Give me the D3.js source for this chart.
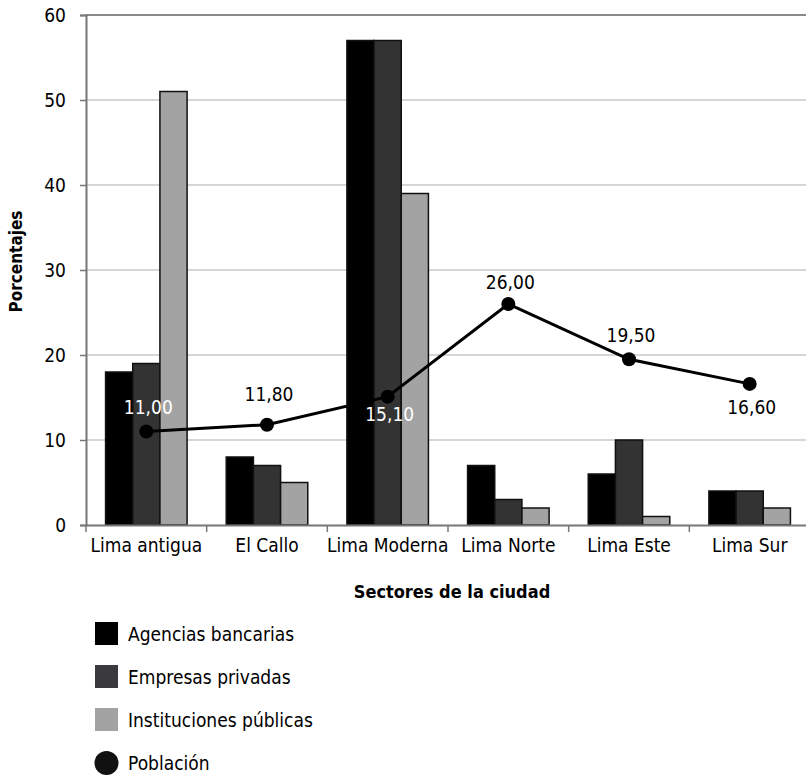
<!DOCTYPE html>
<html>
<head>
<meta charset="utf-8">
<script src="https://cdn.jsdelivr.net/npm/d3@7"></script>
<style>
  body { margin: 0; background: #fff; }
  svg { display: block; }
  text { font-family: "Liberation Sans Narrow", "DejaVu Sans Condensed", "Roboto", sans-serif; }
</style>
</head>
<body>
<div id="chart"></div>
<script>
const categories = ['Lima antigua', 'El Callo', 'Lima Moderna', 'Lima Norte', 'Lima Este', 'Lima Sur'];
const agencias = [18, 8, 57, 7, 6, 4];
const empresas = [19, 7, 57, 3, 10, 4];
const instituciones = [51, 5, 39, 2, 1, 2];
const poblacion = [11.0, 11.8, 15.1, 26.0, 19.5, 16.6];
const poblacionLabels = ['11,00', '11,80', '15,10', '26,00', '19,50', '16,60'];
const yTicks = [0, 10, 20, 30, 40, 50, 60];

const seriesNames = ['Agencias bancarias', 'Empresas privadas', 'Instituciones públicas'];
const seriesColors = ['#000000', '#333333', '#a3a3a3'];
const legendColors = ['#000000', '#3a3a3e', '#a3a3a3'];
const barSeries = [agencias, empresas, instituciones];

// label placement per point: colour and vertical offset from the marker
const labelStyle = [
  { fill: '#fff', dy: -18 },
  { fill: '#000', dy: -24 },
  { fill: '#fff', dy: 24 },
  { fill: '#000', dy: -15 },
  { fill: '#000', dy: -17 },
  { fill: '#000', dy: 30 }
];

const width = 806;
const height = 775;
const margin = { top: 15, left: 86, bottom: 250 };
const plotRight = 810;

const svg = d3.select('#chart')
  .append('svg')
  .attr('width', width)
  .attr('height', height);

const x = d3.scaleBand()
  .domain(categories)
  .range([margin.left, plotRight]);

const x1 = d3.scaleBand()
  .domain(d3.range(3))
  .range([0, x.bandwidth()])
  .paddingOuter(0.72)
  .paddingInner(0);

const y = d3.scaleLinear()
  .domain([0, 60])
  .range([height - margin.bottom, margin.top]);

// gridlines
svg.append('g')
  .selectAll('line')
  .data(yTicks.filter(d => d > 0))
  .enter()
  .append('line')
  .attr('x1', margin.left)
  .attr('x2', plotRight)
  .attr('y1', d => y(d))
  .attr('y2', d => y(d))
  .attr('stroke', d => d === 60 ? '#8a8a8a' : '#c8c8c8')
  .attr('stroke-width', d => d === 60 ? 2 : 1.5);

// bars
categories.forEach((cat, i) => {
  const g = svg.append('g').attr('transform', `translate(${x(cat)},0)`);
  barSeries.forEach((series, s) => {
    g.append('rect')
      .attr('x', x1(s))
      .attr('y', y(series[i]))
      .attr('width', x1.bandwidth())
      .attr('height', y(0) - y(series[i]))
      .attr('fill', seriesColors[s])
      .attr('stroke', '#111')
      .attr('stroke-width', 1.5);
  });
});

// y axis
const yAxis = svg.append('g')
  .attr('transform', `translate(${margin.left},0)`)
  .call(d3.axisLeft(y).tickValues(yTicks).tickSize(6).tickPadding(14));
yAxis.select('.domain').attr('stroke', '#777').attr('stroke-width', 2);
yAxis.selectAll('.tick line').attr('stroke', '#777').attr('stroke-width', 1.5);
yAxis.selectAll('.tick text')
  .style('font-size', '19px')
  .attr('fill', '#000')
  .style('font-family', '"Liberation Sans Narrow", "DejaVu Sans Condensed", sans-serif');

// x axis
const xAxis = svg.append('g')
  .attr('transform', `translate(0,${y(0)})`)
  .call(d3.axisBottom(x).tickSize(0).tickPadding(14));
xAxis.select('.domain').attr('stroke', '#777').attr('stroke-width', 2);
xAxis.selectAll('.tick text')
  .style('font-size', '19px')
  .attr('fill', '#000')
  .style('font-family', '"Liberation Sans Narrow", "DejaVu Sans Condensed", sans-serif');

// category separators
svg.append('g')
  .selectAll('line')
  .data(categories)
  .enter()
  .append('line')
  .attr('x1', d => x(d))
  .attr('x2', d => x(d))
  .attr('y1', y(0))
  .attr('y2', y(0) + 7)
  .attr('stroke', '#777')
  .attr('stroke-width', 1.5);

// line series
const cx = d => x(d) + x.bandwidth() / 2;
const line = d3.line()
  .x((d, i) => cx(categories[i]))
  .y(d => y(d));

svg.append('path')
  .datum(poblacion)
  .attr('d', line)
  .attr('fill', 'none')
  .attr('stroke', '#000')
  .attr('stroke-width', 3);

svg.append('g')
  .selectAll('circle')
  .data(poblacion)
  .enter()
  .append('circle')
  .attr('cx', (d, i) => cx(categories[i]))
  .attr('cy', d => y(d))
  .attr('r', 7)
  .attr('fill', '#000');

svg.append('g')
  .selectAll('text')
  .data(poblacion)
  .enter()
  .append('text')
  .attr('x', (d, i) => cx(categories[i]) + 2)
  .attr('y', (d, i) => y(d) + labelStyle[i].dy)
  .attr('text-anchor', 'middle')
  .attr('fill', (d, i) => labelStyle[i].fill)
  .style('font-size', '19px')
  .text((d, i) => poblacionLabels[i]);

// axis titles
svg.append('text')
  .attr('transform', `translate(22,${y(31)}) rotate(-90)`)
  .attr('text-anchor', 'middle')
  .style('font-size', '17px')
  .style('font-weight', 'bold')
  .text('Porcentajes');

svg.append('text')
  .attr('x', 452)
  .attr('y', 598)
  .attr('text-anchor', 'middle')
  .style('font-size', '18px')
  .style('font-weight', 'bold')
  .text('Sectores de la ciudad');

// legend
const legendY = d3.scalePoint()
  .domain([...seriesNames, 'Población'])
  .range([634, 763]);

const legend = svg.append('g');
seriesNames.forEach((name, s) => {
  legend.append('rect')
    .attr('x', 95)
    .attr('y', legendY(name) - 12)
    .attr('width', 23)
    .attr('height', 23)
    .attr('fill', legendColors[s]);
});
legend.append('circle')
  .attr('cx', 106.5)
  .attr('cy', legendY('Población'))
  .attr('r', 12)
  .attr('fill', '#111');

legend.selectAll('text')
  .data(legendY.domain())
  .enter()
  .append('text')
  .attr('x', 128)
  .attr('y', d => legendY(d))
  .attr('dy', '0.35em')
  .style('font-size', '19px')
  .text(d => d);
</script>
</body>
</html>
